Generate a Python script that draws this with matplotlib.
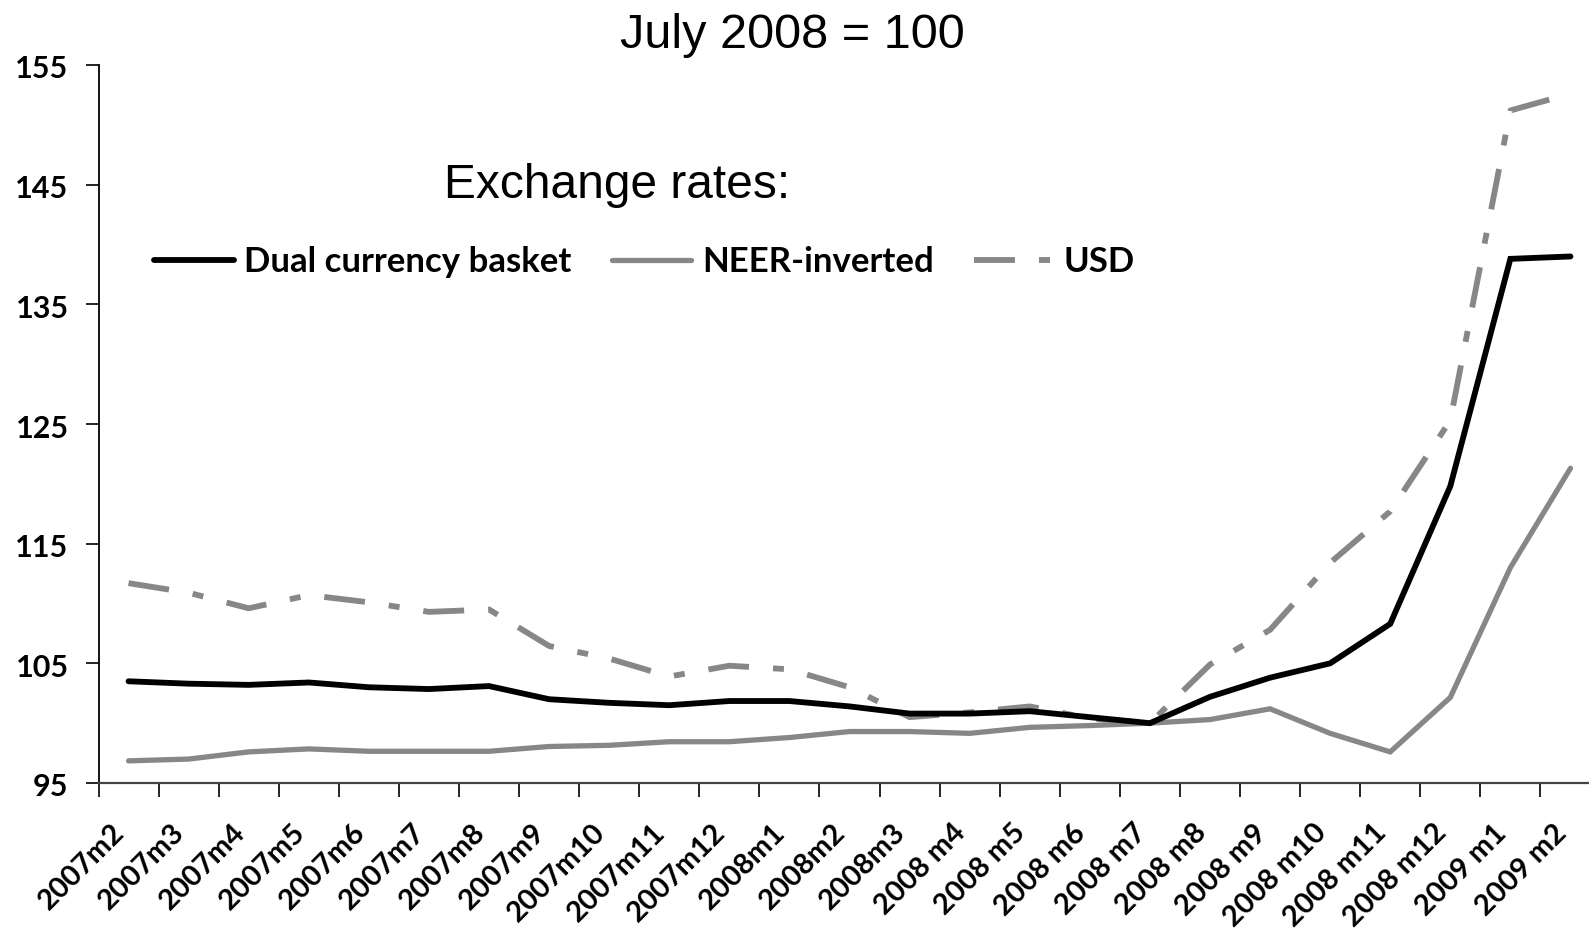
import matplotlib
matplotlib.use("Agg")
import matplotlib.pyplot as plt
import matplotlib.transforms as mtransforms
import numpy as np

# Monthly labels, February 2007 to February 2009
months = ["2007m2", "2007m3", "2007m4", "2007m5", "2007m6", "2007m7", "2007m8",
          "2007m9", "2007m10", "2007m11", "2007m12", "2008m1", "2008m2", "2008m3",
          "2008 m4", "2008 m5", "2008 m6", "2008 m7", "2008 m8", "2008 m9",
          "2008 m10", "2008 m11", "2008 m12", "2009 m1", "2009 m2"]

# Exchange-rate indices, July 2008 = 100
dual_basket = [103.5, 103.3, 103.2, 103.4, 103.0, 102.85, 103.1, 102.0, 101.7, 101.5,
               101.85, 101.85, 101.4, 100.8, 100.8, 101.0, 100.5, 100.0, 102.2, 103.8,
               105.0, 108.3, 119.8, 138.8, 139.0]
neer_inverted = [96.85, 97.0, 97.6, 97.85, 97.65, 97.65, 97.65, 98.05, 98.15, 98.45,
                 98.45, 98.8, 99.3, 99.3, 99.15, 99.65, 99.8, 100.0, 100.3, 101.2,
                 99.15, 97.6, 102.15, 113.0, 121.3]
usd = [111.7, 110.9, 109.6, 110.7, 110.1, 109.3, 109.5, 106.45, 105.4, 103.9,
       104.8, 104.5, 103.0, 100.5, 100.9, 101.4, 100.4, 100.0, 104.9, 107.8,
       113.4, 117.7, 125.3, 151.2, 152.6]

y_ticks = [95, 105, 115, 125, 135, 145, 155]

W, H = 1589, 949
fig = plt.figure(figsize=(W / 100, H / 100), dpi=100)
fig.patch.set_facecolor("white")

# Plot area (in pixels): x from 98.5 to 1600.5, y from 65 (155) to 783 (95)
left, right, top, bottom = 98.5, 1600.5, 65, 783
ax = fig.add_axes([left / W, 1 - bottom / H, (right - left) / W, (bottom - top) / H])

x = np.arange(len(months))
gray = "#878787"
ax.plot(x, dual_basket, color="black", lw=4.2, solid_capstyle="round",
        solid_joinstyle="miter", label="Dual currency basket", zorder=3)
ax.plot(x, neer_inverted, color=gray, lw=3.8, solid_capstyle="round",
        solid_joinstyle="miter", label="NEER-inverted", zorder=2)
lw_usd = 4.2
ax.plot(x, usd, color=gray, lw=lw_usd, dash_capstyle="butt",
        linestyle=(0, (29.5 / lw_usd, 17.3 / lw_usd, 7.9 / lw_usd, 17.3 / lw_usd)),
        label="USD", zorder=2)

ax.set_xlim(-0.5, len(months) - 0.5)
ax.set_ylim(95, 155)

for s in ("top", "right"):
    ax.spines[s].set_visible(False)
ax.spines["left"].set_linewidth(1.3)
ax.spines["bottom"].set_linewidth(1.6)
ax.spines["bottom"].set_color("#444444")

tick_font = dict(family="Lato", weight="bold")
ax.set_yticks(y_ticks)
ax.set_yticklabels([str(v) for v in y_ticks], fontsize=22, **tick_font)
ax.tick_params(axis="y", direction="out", length=9.5, width=1.2, pad=12)
for lbl in ax.get_yticklabels():
    lbl.set_transform(lbl.get_transform()
                      + mtransforms.ScaledTranslation(0, -2 / 100, fig.dpi_scale_trans))

# category boundaries carry the tick marks, labels sit at category centres
ax.set_xticks(np.arange(len(months) + 1) - 0.5, minor=True)
ax.set_xticks(x)
ax.set_xticklabels(months, fontsize=21, rotation=45, ha="right", va="center",
                   rotation_mode="anchor", **tick_font)
ax.tick_params(axis="x", which="major", length=0, pad=33)
ax.tick_params(axis="x", which="minor", direction="out", length=10, width=1.2)
shift = mtransforms.ScaledTranslation(-8 / 100, 0, fig.dpi_scale_trans)
for lbl in ax.get_xticklabels():
    lbl.set_transform(lbl.get_transform() + shift)

fig.text(792 / W, 1 - 35 / H, "July 2008 = 100", fontsize=35,
         family="Liberation Sans", ha="center", va="center")
fig.text(617 / W, 1 - 185 / H, "Exchange rates:", fontsize=34.5,
         family="Liberation Sans", ha="center", va="center")

leg = ax.legend(loc="center left", bbox_to_anchor=(154 / W, 1 - 262 / H),
                bbox_transform=fig.transFigure, ncol=3, frameon=False,
                borderpad=0, borderaxespad=0, handlelength=2.3, handletextpad=0.3,
                columnspacing=1.15, prop=dict(family="Lato", weight="bold", size=25))

fig.savefig("out.png", dpi=100, facecolor="white")
